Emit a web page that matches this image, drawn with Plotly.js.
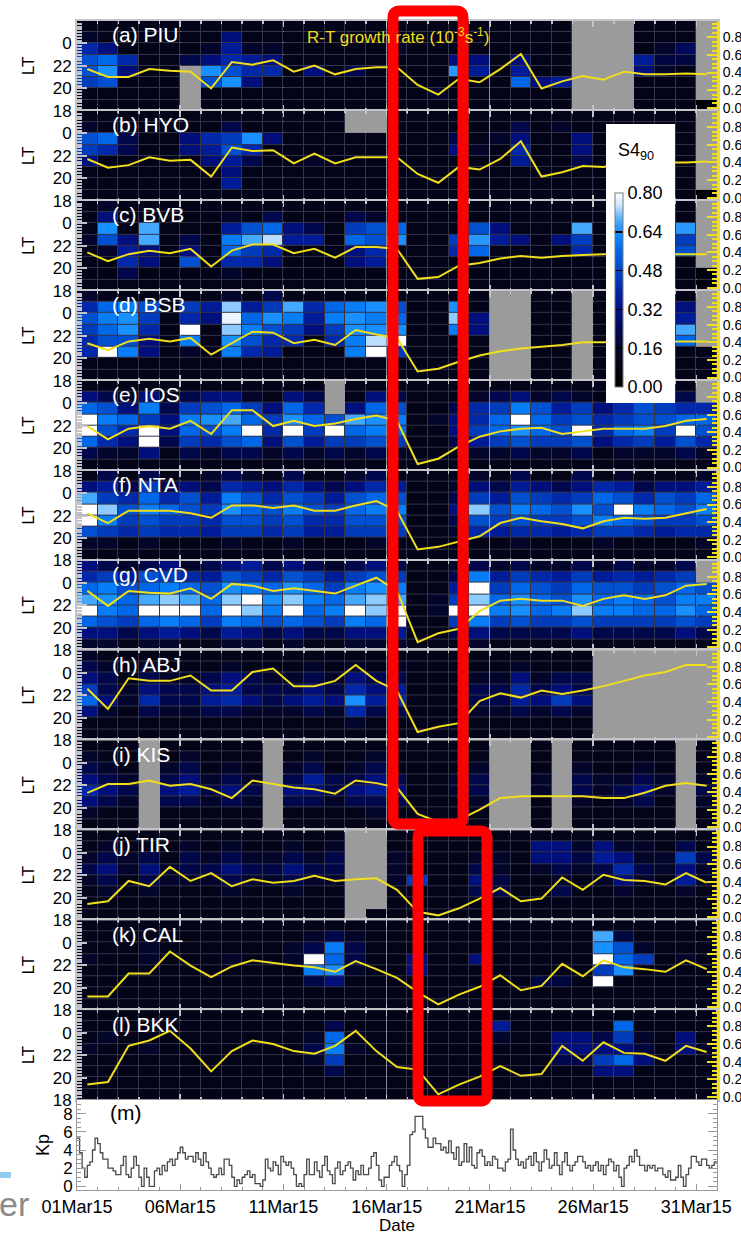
<!DOCTYPE html>
<html><head><meta charset="utf-8">
<script src="https://cdn.plot.ly/plotly-3.0.1.min.js"></script>
<style>html,body{margin:0;padding:0;background:#fff}#chart{width:741px;height:1235px}</style>
</head><body><div id="chart"></div>
<script>
// ---------------- DATA ----------------
const dayNums = [1,2,3,4,5,6,7,8,9,10,11,12,13,14,15,16,17,18,19,20,21,22,23,24,25,26,27,28,29,30,31];
const dateTickDays = [1,6,11,16,21,26,31];
const dateTickText = ['01Mar15','06Mar15','11Mar15','16Mar15','21Mar15','26Mar15','31Mar15'];
const ltBins = [25,24,23,22,21,20,19,18];   // hour bins, top row first
const ltTickVals = [18,20,22,24];
const ltTickText = ['18','20','22','0'];
const stations = ['(a) PIU','(b) HYO','(c) BVB','(d) BSB','(e) IOS','(f) NTA','(g) CVD','(h) ABJ','(i) KIS','(j) TIR','(k) CAL','(l) BKK'];
const s4TickVals = [0,0.16,0.32,0.48,0.64,0.80];

// S4 (null = no data, drawn grey); rows LT25..LT18, columns 1..31 Mar
const s4_PIU = [
[.1,.1,.1,.1,.1,.1,.1,.1,.1,.1,.1,.1,.1,.1,.1,.1,.1,.1,.1,.1,.1,.1,.1,.1,null,null,null,.1,.1,.1,null],
[.15,.1,.1,.1,.1,.1,.1,.3,.1,.1,.1,.1,.1,.1,.1,.1,.1,.1,.1,.1,.1,.1,.1,.1,null,null,null,.1,.1,.1,null],
[.4,.3,.1,.1,.1,.1,.15,.36,.15,.15,.1,.1,.1,.1,.1,.15,.1,.1,.1,.1,.1,.1,.1,.1,null,null,null,.1,.15,.25,null],
[.5,.56,.4,.1,.1,.22,.3,.4,.36,.3,.1,.1,.1,.1,.1,.1,.1,.1,.3,.3,.1,.3,.1,.1,null,null,null,.36,.2,.2,null],
[.5,.64,.3,.1,.1,null,.64,.5,.4,.4,.1,.3,.1,.22,.1,.1,.1,.1,.66,.36,.1,.36,.1,.1,null,null,null,.3,.15,.1,null],
[.45,.5,.1,.1,.1,null,.5,.64,.3,.1,.1,.1,.1,.1,.1,.1,.1,.1,.1,.1,.1,.56,.3,.36,null,null,null,.1,.1,.1,null],
[.1,.1,.1,.1,.1,null,.1,.1,.1,.1,.1,.1,.1,.1,.1,.1,.1,.15,.1,.1,.1,.1,.1,.1,null,null,null,.1,.1,.1,null],
[.1,.1,.1,.1,.1,null,.1,.1,.1,.1,.1,.1,.1,.1,.1,.1,.1,.1,.1,.1,.1,.1,.1,.1,null,null,null,.1,.1,.1,.03]];
const s4_HYO = [
[.1,.1,.1,.1,.1,.1,.1,.1,.1,.1,.1,.1,.1,null,null,.1,.1,.1,.1,.1,.1,.1,.1,.1,.1,.1,.1,.1,.1,.1,null],
[.15,.1,.1,.1,.1,.1,.1,.22,.1,.1,.1,.1,.1,null,null,.1,.1,.1,.1,.1,.1,.22,.1,.15,.1,.1,.1,.1,.1,.1,null],
[.5,.56,.22,.1,.1,.3,.4,.45,.64,.3,.1,.1,.1,.1,.1,.1,.1,.1,.22,.1,.15,.3,.1,.1,.3,.1,.1,.1,.1,.1,null],
[.45,.4,.22,.1,.1,.3,.36,.5,.4,.1,.1,.1,.1,.1,.1,.1,.1,.1,.3,.15,.1,.4,.1,.1,.3,.1,.1,.1,.1,.1,null],
[.3,.1,.1,.1,.1,.1,.3,.36,.22,.1,.1,.15,.1,.1,.1,.1,.1,.1,.1,.1,.1,.36,.1,.1,.22,.1,.1,.1,.1,.1,null],
[.1,.1,.1,.1,.1,.1,.1,.3,.1,.1,.1,.1,.1,.1,.1,.1,.1,.1,.1,.1,.1,.1,.1,.1,.1,.1,.1,.1,.1,.1,null],
[.1,.1,.1,.1,.1,.1,.1,.36,.1,.1,.1,.1,.1,.1,.1,.1,.1,.1,.1,.1,.1,.1,.1,.1,.1,.1,.1,.1,.1,.1,null],
[.1,.1,.1,.1,.1,.1,.1,.1,.1,.1,.1,.1,.1,.1,.1,.1,.1,.1,.1,.1,.1,.1,.1,.1,.1,.1,.1,.1,.1,.1,.03]];
const s4_BVB = [
[.1,.15,.1,.1,.1,.1,.1,.1,.1,.1,.1,.1,.1,.1,.1,.1,.1,.1,.1,.1,.1,.1,.1,.1,.1,.1,.1,.1,.1,.1,null],
[.1,.3,.1,.1,.1,.1,.1,.15,.1,.22,.1,.1,.1,.22,.15,.1,.1,.1,.1,.1,.1,.1,.1,.1,.1,.1,.1,.1,.1,.1,null],
[.1,.64,.1,.68,.1,.1,.1,.36,.5,.56,.3,.22,.1,.45,.5,.56,.1,.1,.1,.5,.3,.1,.1,.1,.68,.1,.1,.1,.1,.66,null],
[.15,.5,.3,.68,.1,.22,.1,.6,.68,.74,.36,.36,.1,.56,.5,.64,.1,.1,.45,.66,.36,.3,.1,.3,.45,.1,.3,.1,.1,.45,null],
[.1,.15,.36,.3,.1,.3,.1,.56,.45,.4,.1,.1,.1,.3,.4,.1,.1,.1,.4,.56,.1,.1,.1,.1,.4,.1,.1,.1,.1,.5,null],
[.1,.1,.4,.3,.1,.5,.1,.4,.4,.3,.1,.1,.1,.3,.36,.1,.1,.1,.1,.1,.1,.1,.1,.1,.1,.1,.1,.1,.1,.1,null],
[.1,.1,.22,.1,.1,.1,.1,.15,.1,.1,.1,.1,.1,.1,.1,.1,.1,.1,.1,.1,.1,.1,.1,.1,.1,.1,.1,.1,.1,.1,.05],
[.1,.1,.1,.1,.1,.1,.1,.1,.1,.1,.1,.1,.1,.1,.1,.1,.1,.1,.1,.1,.1,.1,.1,.1,.1,.1,.1,.1,.1,.1,.05]];
const s4_BSB = [
[.15,.1,.1,.1,.1,.1,.1,.15,.1,.22,.1,.1,.1,.1,.1,.1,.1,.1,.1,.1,null,null,.1,.1,null,.1,.1,.1,.1,.1,null],
[.4,.56,.6,.5,.1,.45,.36,.72,.36,.45,.68,.4,.56,.6,.64,.5,.1,.1,.64,.1,null,null,.1,.1,null,.1,.1,.1,.1,.3,null],
[.5,.6,.64,.45,.1,.4,.3,.78,.56,.64,.6,.36,.6,.64,.6,.56,.1,.1,.72,.3,null,null,.1,.1,null,.1,.1,.1,.1,.36,null],
[.45,.56,.64,.4,.1,.8,.1,.72,.6,.5,.45,.3,.45,.64,.64,.64,.1,.1,.6,.3,null,null,.1,.1,null,.1,.1,.1,.1,.68,null],
[.4,.5,.5,.3,.1,.6,.1,.64,.5,.4,.4,.1,.4,.6,.74,.8,.1,.1,.1,.1,null,null,.1,.1,null,.1,.1,.1,.1,.56,null],
[.4,.8,.6,.3,.1,.15,.1,.6,.4,.36,.1,.1,.1,.6,.8,.45,.1,.1,.1,.1,null,null,.1,.1,null,.1,.1,.1,.1,.1,.1],
[.1,.1,.1,.1,.1,.1,.1,.1,.1,.1,.1,.1,.1,.1,.1,.1,.1,.1,.1,.1,null,null,.1,.1,null,.1,.1,.1,.1,.1,.1],
[.1,.1,.1,.1,.1,.1,.1,.1,.1,.1,.1,.1,.1,.1,.1,.1,.1,.1,.1,.1,null,null,.1,.1,null,.1,.1,.1,.1,.1,.1]];
const s4_IOS = [
[.1,.1,.1,.1,.1,.1,.1,.1,.1,.1,.1,.1,null,.1,.1,.1,.1,.1,.1,.1,.1,.1,.1,.1,.1,.1,.1,.1,.1,.1,null],
[.3,.22,.15,.3,.1,.22,.3,.3,.15,.1,.3,.22,null,.1,.3,.22,.1,.1,.1,.15,.22,.3,.15,.22,.15,.1,.15,.22,.15,.22,null],
[.56,.5,.3,.6,.22,.45,.5,.56,.45,.3,.56,.4,null,.3,.56,.5,.1,.1,.22,.4,.45,.6,.5,.36,.45,.3,.4,.5,.45,.4,.4],
[.8,.6,.56,.45,.3,.6,.64,.68,.56,.45,.64,.56,.5,.68,.64,.6,.1,.15,.3,.4,.56,.8,.56,.45,.5,.4,.45,.5,.5,.56,.56],
[.8,.5,.4,.8,.3,.56,.5,.6,.8,.4,.8,.45,.8,.56,.6,.56,.1,.1,.3,.45,.56,.64,.56,.5,.8,.4,.56,.6,.45,.8,.5],
[.56,.4,.3,.8,.22,.45,.4,.5,.56,.3,.5,.36,.45,.45,.5,.45,.1,.1,.22,.36,.45,.5,.45,.45,.5,.3,.4,.45,.36,.5,.4],
[.22,.15,.15,.3,.1,.22,.15,.22,.22,.15,.22,.15,.22,.15,.22,.15,.1,.1,.1,.15,.15,.22,.15,.15,.22,.1,.15,.15,.15,.22,.15],
[.1,.1,.1,.1,.1,.1,.1,.1,.1,.1,.1,.1,.1,.1,.1,.1,.1,.1,.1,.1,.1,.1,.1,.1,.1,.1,.1,.1,.1,.1,.1]];
const s4_NTA = [
[.1,.22,.1,.22,.1,.1,.15,.22,.15,.1,.22,.1,.1,.15,.22,.1,.1,.1,.1,.15,.1,.22,.1,.1,.22,.1,.15,.1,.1,.1,.15],
[.3,.36,.22,.45,.22,.3,.22,.4,.36,.3,.4,.3,.22,.3,.4,.36,.1,.1,.15,.3,.22,.36,.3,.22,.3,.4,.36,.22,.3,.3,.36],
[.68,.45,.4,.56,.4,.5,.36,.6,.5,.4,.5,.45,.36,.5,.56,.5,.1,.1,.22,.45,.36,.5,.45,.4,.45,.56,.5,.4,.5,.45,.56],
[.8,.72,.5,.6,.56,.5,.45,.64,.56,.5,.6,.5,.45,.56,.6,.6,.1,.1,.3,.72,.5,.6,.56,.5,.64,.5,.8,.6,.56,.5,.6],
[.8,.6,.45,.5,.45,.45,.4,.5,.5,.45,.5,.4,.4,.5,.5,.5,.1,.1,.22,.5,.45,.5,.45,.45,.5,.6,.56,.5,.45,.45,.5],
[.5,.45,.4,.45,.4,.4,.36,.45,.45,.4,.45,.36,.36,.45,.45,.45,.1,.1,.15,.4,.36,.4,.4,.36,.4,.45,.45,.4,.36,.4,.4],
[.15,.15,.1,.15,.1,.1,.1,.15,.1,.1,.15,.1,.1,.1,.15,.1,.1,.1,.1,.1,.1,.15,.1,.1,.1,.15,.1,.1,.1,.1,.15],
[.1,.1,.1,.1,.1,.1,.1,.1,.1,.1,.1,.1,.1,.1,.1,.1,.1,.1,.1,.1,.1,.1,.1,.1,.1,.1,.1,.1,.1,.1,.1]];
const s4_CVD = [
[.3,.22,.15,.22,.3,.15,.22,.3,.36,.22,.3,.22,.15,.22,.3,.22,.1,.1,.15,.22,.15,.22,.15,.15,.22,.15,.22,.15,.15,.22,null],
[.4,.45,.36,.5,.45,.4,.36,.5,.45,.4,.5,.45,.36,.45,.5,.45,.1,.1,.22,.6,.36,.45,.4,.36,.45,.36,.4,.36,.4,.45,null],
[.56,.6,.5,.56,.6,.56,.5,.64,.6,.56,.64,.56,.45,.6,.64,.6,.1,.1,.36,.8,.45,.56,.5,.45,.56,.5,.5,.45,.5,.56,.5],
[.68,.64,.56,.68,.72,.68,.56,.72,.8,.64,.72,.6,.56,.68,.72,.68,.1,.15,.45,.72,.56,.64,.56,.5,.64,.56,.6,.56,.5,.6,.6],
[.8,.6,.56,.8,.8,.8,.56,.8,.72,.6,.8,.56,.6,.8,.72,.8,.1,.15,.8,.8,.6,.64,.56,.6,.72,.6,.6,.56,.56,.64,.56],
[.56,.5,.45,.56,.6,.56,.45,.6,.56,.5,.56,.5,.45,.6,.56,.8,.1,.1,.45,.6,.45,.5,.45,.45,.5,.45,.45,.45,.45,.5,.45],
[.3,.3,.22,.3,.36,.3,.22,.36,.3,.22,.3,.22,.22,.3,.3,.36,.1,.1,.22,.3,.22,.22,.22,.22,.3,.22,.22,.22,.22,.3,.22],
[.15,.15,.1,.15,.15,.1,.1,.15,.15,.1,.15,.1,.1,.15,.15,.15,.1,.1,.1,.15,.1,.1,.1,.1,.1,.1,.1,.1,.1,.1,.1]];
const s4_ABJ = [
[.15,.1,.1,.1,.1,.1,.1,.1,.1,.1,.1,.1,.1,.1,.1,.1,.1,.1,.1,.1,.1,.1,.1,.1,.1,null,null,null,null,null,null],
[.22,.15,.1,.15,.1,.1,.1,.15,.1,.1,.1,.15,.1,.15,.1,.15,.1,.1,.1,.1,.1,.15,.1,.1,.1,null,null,null,null,null,null],
[.3,.22,.1,.22,.15,.15,.22,.3,.22,.15,.15,.22,.15,.3,.22,.22,.1,.1,.1,.15,.15,.3,.15,.22,.22,null,null,null,null,null,null],
[.45,.22,.15,.3,.22,.22,.3,.36,.22,.22,.22,.3,.22,.4,.3,.36,.1,.1,.1,.22,.22,.4,.22,.3,.22,null,null,null,null,null,null],
[.56,.3,.15,.4,.22,.22,.36,.4,.3,.22,.3,.36,.3,.64,.36,.4,.1,.1,.1,.22,.22,.36,.3,.45,.3,null,null,null,null,null,null],
[.3,.15,.1,.22,.15,.15,.22,.22,.15,.15,.15,.22,.15,.4,.22,.22,.1,.1,.1,.15,.15,.22,.15,.22,.15,null,null,null,null,null,null],
[.1,.1,.1,.1,.1,.1,.1,.1,.1,.1,.1,.1,.1,.15,.1,.1,.1,.1,.1,.1,.1,.1,.1,.1,.1,null,null,null,null,null,null],
[.1,.1,.1,.1,.1,.1,.1,.1,.1,.1,.1,.1,.1,.1,.1,.1,.1,.1,.1,.1,.1,.1,.1,.1,.1,null,null,null,null,null,null]];
const s4_KIS = [
[.1,.1,.1,null,.1,.1,.1,.1,.1,null,.1,.1,.1,.1,.1,.1,.1,.1,.1,.1,null,null,.1,null,.1,.1,.1,.1,.1,null,.1],
[.15,.1,.1,null,.1,.15,.1,.1,.1,null,.1,.15,.1,.1,.15,.1,.1,.1,.1,.1,null,null,.1,null,.1,.1,.1,.1,.1,null,.1],
[.22,.15,.1,null,.15,.22,.1,.15,.1,null,.15,.22,.1,.15,.22,.1,.1,.1,.1,.15,null,null,.1,null,.15,.1,.1,.15,.1,null,.1],
[.3,.22,.15,null,.22,.3,.15,.22,.15,null,.22,.36,.22,.22,.3,.22,.1,.1,.15,.22,null,null,.15,null,.22,.15,.15,.22,.15,null,.15],
[.4,.3,.22,null,.3,.36,.22,.3,.22,null,.3,.3,.22,.3,.36,.3,.1,.1,.15,.22,null,null,.15,null,.22,.15,.22,.3,.15,null,.22],
[.3,.22,.15,null,.22,.22,.15,.22,.15,null,.22,.22,.15,.22,.22,.22,.1,.1,.1,.15,null,null,.1,null,.15,.1,.15,.22,.1,null,.15],
[.15,.1,.1,null,.1,.1,.1,.1,.1,null,.1,.1,.1,.1,.15,.1,.1,.1,.1,.1,null,null,.1,null,.1,.1,.1,.1,.1,null,.1],
[.1,.1,.1,null,.1,.1,.1,.1,.1,null,.1,.1,.1,.1,.1,.1,.1,.1,.1,.1,null,null,.1,null,.1,.1,.1,.1,.1,null,.1]];
const s4_TIR = [
[.1,.1,.1,.1,.1,.1,.1,.1,.1,.1,.1,.1,.1,null,null,.1,.1,.1,.1,.1,.1,.1,.1,.1,.1,.1,.1,.1,.1,.1,.1],
[.1,.15,.1,.1,.1,.15,.1,.15,.1,.1,.15,.1,.15,null,null,.1,.1,.1,.1,.1,.1,.1,.3,.3,.15,.3,.15,.15,.1,.22,.1],
[.15,.22,.15,.22,.1,.22,.15,.22,.15,.15,.22,.15,.22,null,null,.15,.1,.1,.1,.15,.15,.1,.3,.3,.2,.36,.3,.15,.15,.45,.22],
[.22,.3,.15,.3,.15,.22,.22,.3,.22,.22,.3,.22,.22,null,null,.15,.1,.1,.1,.22,.15,.1,.15,.22,.15,.22,.4,.22,.15,.3,.15],
[.15,.22,.1,.22,.15,.15,.15,.22,.15,.15,.22,.15,.15,null,null,.15,.45,.1,.1,.3,.2,.1,.1,.15,.1,.15,.3,.15,.1,.36,.15],
[.1,.15,.1,.15,.1,.1,.1,.15,.1,.1,.15,.1,.1,null,null,.1,.1,.1,.1,.22,.22,.1,.1,.22,.1,.1,.15,.1,.1,.15,.1],
[.1,.1,.1,.1,.1,.1,.1,.1,.1,.1,.1,.1,.1,null,null,.1,.1,.1,.1,.1,.1,.1,.1,.1,.1,.1,.1,.1,.1,.1,.1],
[.1,.1,.1,.1,.1,.1,.1,.1,.1,.1,.1,.1,.1,null,.1,.1,.1,.1,.1,.1,.1,.1,.1,.1,.1,.1,.1,.1,.1,.1,.1]];
const s4_CAL = [
[.1,.1,.1,.1,.1,.1,.1,.1,.1,.1,.1,.1,.1,.1,.1,.1,.1,.1,.1,.1,.1,.1,.1,.1,.1,.1,.1,.1,.1,.1,.1],
[.1,.1,.1,.1,.1,.1,.1,.1,.1,.1,.1,.15,.22,.15,.1,.1,.1,.1,.1,.1,.1,.1,.1,.1,.1,.68,.2,.1,.1,.1,.1],
[.1,.1,.1,.15,.1,.1,.1,.1,.1,.1,.15,.22,.6,.22,.1,.1,.1,.1,.1,.1,.1,.1,.1,.1,.1,.64,.5,.15,.1,.1,.1],
[.15,.1,.1,.15,.1,.1,.1,.15,.1,.1,.15,.8,.56,.22,.1,.1,.3,.1,.1,.3,.1,.1,.1,.1,.1,.8,.56,.45,.1,.15,.1],
[.1,.1,.1,.1,.1,.1,.1,.1,.1,.1,.1,.6,.64,.15,.1,.1,.3,.1,.1,.1,.1,.1,.1,.1,.1,.45,.64,.1,.1,.1,.1],
[.1,.1,.1,.1,.1,.1,.1,.1,.1,.1,.1,.22,.3,.1,.1,.1,.1,.1,.1,.1,.1,.1,.2,.2,.1,.8,.1,.1,.1,.1,.1],
[.1,.1,.1,.1,.1,.1,.1,.1,.1,.1,.1,.1,.1,.1,.1,.1,.1,.1,.1,.1,.1,.1,.1,.1,.1,.1,.1,.1,.1,.1,.1],
[.1,.1,.1,.1,.1,.1,.1,.1,.1,.1,.1,.1,.1,.1,.1,.1,.1,.1,.1,.1,.1,.1,.1,.1,.1,.1,.1,.1,.1,.1,.1]];
const s4_BKK = [
[.1,.1,.1,.1,.1,.1,.1,.1,.1,.1,.1,.1,.1,.1,.1,.1,.1,.1,.1,.1,.1,.1,.1,.1,.1,.1,.1,.1,.1,.1,.1],
[.1,.1,.1,.1,.1,.1,.1,.1,.1,.1,.1,.1,.22,.1,.1,.1,.1,.1,.1,.1,.36,.1,.1,.1,.1,.1,.56,.1,.1,.1,.1],
[.1,.15,.1,.1,.1,.1,.1,.1,.1,.1,.1,.15,.56,.1,.1,.1,.1,.1,.1,.1,.15,.1,.1,.3,.3,.22,.45,.15,.1,.3,.1],
[.15,.1,.1,.15,.1,.1,.1,.1,.1,.1,.1,.22,.6,.15,.1,.1,.1,.1,.1,.1,.1,.1,.1,.3,.3,.3,.3,.2,.1,.3,.15],
[.1,.1,.1,.1,.1,.1,.1,.1,.1,.1,.1,.15,.45,.1,.1,.1,.1,.1,.1,.1,.1,.1,.1,.22,.22,.45,.56,.3,.1,.1,.1],
[.1,.1,.1,.1,.1,.1,.1,.1,.1,.1,.1,.1,.22,.1,.1,.1,.1,.1,.1,.1,.1,.1,.1,.1,.1,.3,.3,.1,.1,.1,.1],
[.1,.1,.1,.1,.1,.1,.1,.1,.1,.1,.1,.1,.1,.1,.1,.1,.1,.1,.1,.1,.1,.1,.1,.1,.1,.1,.1,.1,.1,.1,.1],
[.1,.1,.1,.1,.1,.1,.1,.1,.1,.1,.1,.1,.1,.1,.1,.1,.1,.1,.1,.1,.1,.1,.1,.1,.1,.1,.1,.1,.1,.1,.1]];

// R-T growth rate (1e-3 s^-1), daily
const rt_PIU = [.44,.35,.35,.44,.42,.41,.22,.52,.49,.54,.41,.48,.38,.44,.46,.46,.26,.15,.33,.29,.44,.61,.22,.30,.36,.32,.41,.38,.38,.39,.38];
const rt_HYO = [.44,.34,.37,.46,.42,.43,.24,.57,.53,.54,.39,.50,.39,.46,.46,.46,.27,.17,.35,.32,.44,.64,.24,.29,.36,.35,.40,.40,.40,.40,.41];
const rt_BVB = [.40,.30,.38,.42,.39,.44,.24,.42,.49,.49,.39,.44,.34,.46,.46,.44,.10,.12,.25,.28,.33,.36,.34,.36,.37,.38,.38,.38,.38,.38,.38];
const rt_BSB = [.39,.31,.41,.44,.41,.45,.26,.39,.52,.51,.39,.43,.37,.54,.49,.45,.07,.10,.18,.25,.30,.33,.35,.37,.40,.40,.40,.40,.41,.41,.41];
const rt_IOS = [.47,.32,.44,.47,.44,.53,.38,.65,.65,.47,.53,.47,.50,.55,.59,.53,.04,.10,.24,.35,.41,.44,.45,.38,.41,.44,.44,.44,.47,.53,.55];
const rt_NTA = [.50,.39,.53,.53,.53,.50,.45,.59,.59,.56,.59,.53,.53,.59,.64,.53,.09,.12,.18,.24,.39,.45,.41,.38,.33,.41,.45,.44,.45,.50,.55];
const rt_CVD = [.64,.47,.64,.62,.61,.67,.55,.72,.70,.64,.67,.64,.61,.70,.79,.64,.06,.16,.21,.41,.53,.55,.53,.53,.47,.55,.59,.55,.59,.70,.72];
const rt_ABJ = [.55,.32,.67,.64,.64,.70,.53,.53,.74,.78,.58,.58,.64,.82,.64,.53,.06,.12,.16,.41,.50,.45,.53,.49,.53,.58,.64,.70,.74,.82,.82];
const rt_KIS = [.39,.49,.49,.53,.47,.49,.43,.33,.53,.49,.45,.43,.38,.53,.50,.45,.15,.06,.08,.20,.33,.35,.35,.35,.35,.33,.33,.39,.47,.50,.47];
const rt_TIR = [.15,.18,.41,.35,.57,.41,.50,.35,.43,.39,.41,.47,.41,.43,.44,.31,.06,.02,.10,.21,.33,.18,.21,.45,.31,.48,.42,.41,.37,.50,.39];
const rt_CAL = [.12,.12,.38,.38,.63,.47,.34,.46,.53,.50,.47,.45,.40,.52,.43,.33,.17,.03,.14,.23,.36,.19,.24,.49,.35,.53,.45,.43,.40,.53,.43];
const rt_BKK = [.14,.17,.58,.64,.75,.55,.29,.52,.64,.60,.52,.49,.58,.75,.52,.34,.31,.03,.14,.23,.35,.24,.26,.58,.41,.62,.50,.49,.41,.58,.51];

// Kp, 3-hourly, 1-31 Mar 2015 (8 values per day)
const kp = [
5.3,3.7,2,1,2.3,2.7,4,5.3, 4.7,3.7,3,3,2,2,1.7,1.3, 1.3,2.3,3.3,1.3,1,2,3.3,2.3, 1,0,2,1,0,0,1.7,2,
1.3,2.3,1.7,2.7,3,2.3,3,3.7, 4.3,3.7,3,3.3,3.3,2.7,3.7,3, 2.3,3.7,2.7,2,1.3,1,1.3,2, 1.3,3,3,2.3,1,0,0.7,0.3,
1,1.3,1.7,1,1.3,0.3,0.3,0, 0.7,3,2,1.7,2.7,2.3,1.3,3.3, 2.7,2.3,2.7,2,1.3,0,0.3,0, 1.3,3,1.3,1.3,2.7,1.7,1,2.3,
3.3,1.7,1.3,0.3,2,2.7,1.3,1.7, 2.3,2.7,2,0.7,1.7,1.3,2.3,1.3, 1.3,2,3.3,3.7,2.3,0.7,0,1, 1,2.3,2.7,3.3,2.3,1.7,0,1.3,
2.3,5.7,6,7.7,7.7,7.7,6.3,5.3, 4.3,4.3,5.3,4.7,4.7,4,4.3,3.7, 5,3.7,3,4.3,2.3,2.7,4.7,2.7, 4.3,2.3,2,3.7,4,3.3,2.3,2.7,
2.3,3.3,3,2,2,1.7,2.7,3, 6.3,4,3,2.3,2.7,2,3,3.3, 2.3,3.7,2.7,1.7,2.7,4,3,2, 2.3,3.7,2.3,1.3,2.7,3.7,2.3,1.7,
2.3,2.7,3.3,3.3,2.7,2,2.3,1.7, 2.3,2.7,1.7,2.3,1.3,2.3,3,2.7, 1.7,2.3,1,0,2,2.3,3.3,2.7, 4,3.3,2.3,2.3,1.7,2.3,2,2.3,
1.7,2,2,1.3,1,1.7,0.7,0.7, 1,2.3,1,0,1.3,2,3.3,3.3, 2.7,2.3,3,3,2.3,2,2.3,2.7];

// ---------------- FIGURE ----------------
const s4All = [s4_PIU,s4_HYO,s4_BVB,s4_BSB,s4_IOS,s4_NTA,s4_CVD,s4_ABJ,s4_KIS,s4_TIR,s4_CAL,s4_BKK];
const rtAll = [rt_PIU,rt_HYO,rt_BVB,rt_BSB,rt_IOS,rt_NTA,rt_CVD,rt_ABJ,rt_KIS,rt_TIR,rt_CAL,rt_BKK];

const L=77, R=717, T=21, B=1190;
const px2x = p => (p-L)/(R-L);
const py2y = p => (B-p)/(B-T);
const PH = 89.92;
const YEL = '#f0de1c';
const FRAME = '#c4c4c8';
const FONT = 'Liberation Sans, Arial, Helvetica, sans-serif';

const colorscale = [[0,'#000000'],[0.15,'#05051d'],[0.25,'#000640'],[0.325,'#000a60'],[0.4,'#001288'],
 [0.475,'#0020a0'],[0.55,'#0038b8'],[0.625,'#0050d0'],[0.7,'#0068e8'],[0.775,'#0a88ff'],[0.825,'#2898ff'],
 [0.875,'#60b8ff'],[0.9375,'#d0e8ff'],[1,'#ffffff']];

const xc = dayNums.map(d => d + 0.5);
const yc = ltBins.map(h => h + 0.5);

const traces = [];
const layout = {
  width:741, height:1235, margin:{l:L, r:741-R, t:T, b:1235-B, pad:0},
  paper_bgcolor:'#ffffff', plot_bgcolor:'#ffffff', showlegend:false,
  font:{family:FONT, size:16, color:'#000'},
  shapes:[], annotations:[]
};

for (let i=0;i<12;i++){
  const n = i+1, top = T + i*PH, bot = top + PH;
  const xa = 'x'+n, ya = 'y'+n, yr = 'y'+(n+12);
  const z = s4All[i];
  const mask = z.map(r => r.map(v => v===null ? 1 : null));
  traces.push({type:'heatmap', x:xc, y:yc, z:mask, xaxis:xa, yaxis:ya, zmin:0, zmax:1,
    colorscale:[[0,'#9b9b9b'],[1,'#9b9b9b']], showscale:false, hoverinfo:'skip'});
  const hm = {type:'heatmap', x:xc, y:yc, z:z, xaxis:xa, yaxis:ya, zmin:0, zmax:0.8,
    colorscale:colorscale, xgap:1, ygap:1, showscale:(i===0), hoverinfo:'skip'};
  if (i===0){
    hm.colorbar = {x:px2x(615), xanchor:'left', y:py2y(387), yanchor:'bottom', lenmode:'pixels', len:194,
      thickness:8, thicknessmode:'pixels', bgcolor:'rgba(0,0,0,0)', outlinewidth:1, outlinecolor:'#777',
      borderwidth:0, xpad:0, ypad:0,
      tickvals:s4TickVals, ticktext:s4TickVals.map(v=>v.toFixed(2)), ticks:'inside', ticklen:8,
      tickcolor:'#000', tickwidth:1.5, tickfont:{size:18, family:FONT, color:'#000'}};
  }
  traces.push(hm);
  traces.push({type:'scatter', mode:'lines', x:xc, y:rtAll[i], xaxis:xa, yaxis:yr,
    line:{color:YEL, width:2}, hoverinfo:'skip'});

  layout['xaxis'+(n===1?'':n)] = {domain:[0,1], range:[1,32], anchor:ya, showticklabels:false,
    tickvals:dateTickDays, ticks:'inside', ticklen:6, tickwidth:1.5, tickcolor:FRAME,
    minor:{dtick:1, tick0:1, ticks:'inside', ticklen:3, tickcolor:FRAME, showgrid:false},
    showgrid:true, gridcolor:'#8a8a9c', gridwidth:1, zeroline:false,
    showline:true, mirror:'ticks', linecolor:FRAME, linewidth:2};
  layout['yaxis'+(n===1?'':n)] = {domain:[py2y(bot), py2y(top)], range:[18,26], anchor:xa,
    tickvals:ltTickVals, ticktext:ltTickText, ticks:'inside', ticklen:10, tickwidth:2, tickcolor:FRAME,
    minor:{dtick:0.25, ticks:'inside', ticklen:5, tickcolor:FRAME, showgrid:false},
    showgrid:false, zeroline:false, showline:true, linecolor:FRAME, linewidth:2,
    tickfont:{size:17, color:'#000'}, title:{text:'LT', font:{size:17, color:'#000'}, standoff:14}};
  layout['yaxis'+(n+12)] = {overlaying:ya, side:'right', anchor:xa, range:[-0.035,0.985],
    tickvals:[0,0.2,0.4,0.6,0.8], ticktext:['0.0','0.2','0.4','0.6','0.8'], ticks:'inside', ticklen:10,
    tickwidth:2, tickcolor:YEL, minor:{dtick:0.05, tick0:0, ticks:'inside', ticklen:5, tickcolor:YEL, showgrid:false},
    showgrid:false, zeroline:false, showline:true, linecolor:YEL, linewidth:3,
    tickfont:{size:14, color:'#000'}};
  layout.shapes.push({type:'rect', xref:xa+' domain', yref:ya+' domain', x0:0, x1:1, y0:0, y1:1,
    fillcolor:'#34344a', line:{width:0}, layer:'below'});
  layout.annotations.push({text:stations[i], xref:'paper', yref:'paper', x:px2x(110), y:py2y(top+14),
    xanchor:'left', yanchor:'middle', showarrow:false, font:{size:21, color:'#ffffff'}});
}

// Kp panel
const kpX = kp.map((v,k) => 1 + k/8);
kpX.push(32);
const kpY = kp.concat([kp[kp.length-1]]);
traces.push({type:'scatter', mode:'lines', x:kpX, y:kpY, xaxis:'x13', yaxis:'y25',
  line:{color:'#4a4a4a', width:1.3, shape:'hv'}, hoverinfo:'skip'});
layout.xaxis13 = {domain:[0,1], range:[1,32], anchor:'y25', tickvals:dateTickDays, ticktext:dateTickText,
  ticks:'inside', ticklen:6, tickcolor:'#999', minor:{dtick:1, tick0:1, ticks:'inside', ticklen:3, tickcolor:'#999'},
  showgrid:false, zeroline:false, showline:true, mirror:true, linecolor:'#999', linewidth:1,
  tickfont:{size:18, color:'#000'}, title:{text:'Date', font:{size:17, color:'#000'}, standoff:2}};
layout.yaxis25 = {domain:[0, py2y(1100)], range:[-0.4,9.5], anchor:'x13', tickvals:[0,2,4,6,8],
  ticks:'inside', ticklen:9, tickcolor:'#999', minor:{dtick:0.5, ticks:'inside', ticklen:4, tickcolor:'#999'},
  showgrid:false, zeroline:false, showline:true, mirror:'ticks', linecolor:'#999', linewidth:1,
  tickfont:{size:17, color:'#000'}, title:{text:'Kp', font:{size:18, color:'#000'}, standoff:8}};

// colour bar box + title
layout.shapes.push({type:'rect', xref:'paper', yref:'paper', x0:px2x(606), x1:px2x(675), y0:py2y(403), y1:py2y(124),
  fillcolor:'#ffffff', line:{width:0}, layer:'above'});
layout.annotations.push({text:'S4<sub>90</sub>', xref:'paper', yref:'paper', x:px2x(616), y:py2y(152),
  xanchor:'left', yanchor:'middle', showarrow:false, font:{size:18, color:'#000'}});

// texts
layout.annotations.push({text:'R-T growth rate (10<sup>-3</sup>s<sup>-1</sup>)', xref:'paper', yref:'paper',
  x:px2x(305), y:py2y(36), xanchor:'left', yanchor:'middle', showarrow:false, font:{size:17, color:YEL}});
layout.annotations.push({text:'(m)', xref:'paper', yref:'paper', x:px2x(108), y:py2y(1112),
  xanchor:'left', yanchor:'middle', showarrow:false, font:{size:21, color:'#000'}});
layout.annotations.push({text:'er', xref:'paper', yref:'paper', x:px2x(31), y:py2y(1204),
  xanchor:'right', yanchor:'middle', showarrow:false, font:{size:34, color:'#8a8a8a'}});
layout.shapes.push({type:'rect', xref:'paper', yref:'paper', x0:px2x(-2), x1:px2x(11), y0:py2y(1178), y1:py2y(1172),
  fillcolor:'#93cbf1', line:{width:0}, layer:'above'});

// red highlight boxes (rounded)
function roundRect(x0,y0,x1,y1,r){
  const X=p=>px2x(p), Y=p=>py2y(p);
  return `M ${X(x0+r)},${Y(y0)} L ${X(x1-r)},${Y(y0)} Q ${X(x1)},${Y(y0)} ${X(x1)},${Y(y0+r)} `+
         `L ${X(x1)},${Y(y1-r)} Q ${X(x1)},${Y(y1)} ${X(x1-r)},${Y(y1)} L ${X(x0+r)},${Y(y1)} `+
         `Q ${X(x0)},${Y(y1)} ${X(x0)},${Y(y1-r)} L ${X(x0)},${Y(y0+r)} Q ${X(x0)},${Y(y0)} ${X(x0+r)},${Y(y0)} Z`;
}
layout.shapes.push({type:'path', xref:'paper', yref:'paper', path:roundRect(393,11,463,824,7),
  line:{color:'#ff0000', width:11}, layer:'above'});
layout.shapes.push({type:'path', xref:'paper', yref:'paper', path:roundRect(418,831,487,1101,7),
  line:{color:'#ff0000', width:11}, layer:'above'});

Plotly.newPlot('chart', traces, layout, {staticPlot:true, displayModeBar:false});
</script></body></html>
